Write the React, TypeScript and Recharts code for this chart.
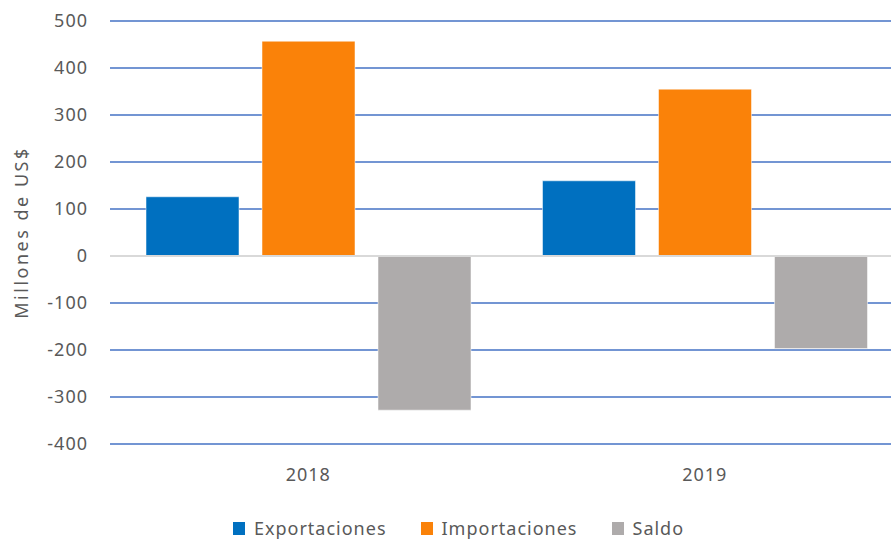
import { BarChart, Bar, XAxis, YAxis, CartesianGrid, ReferenceLine } from "recharts";

const years = ["2018", "2019"];
const exportaciones = [126, 160];
const importaciones = [457, 355];
const saldo = [-328, -197];
const yTicks = [-400, -300, -200, -100, 0, 100, 200, 300, 400, 500];

const series = [
  { key: "exportaciones", name: "Exportaciones", color: "#0070C0" },
  { key: "importaciones", name: "Importaciones", color: "#FA8209" },
  { key: "saldo", name: "Saldo", color: "#AEABAB" },
];

const data = years.map((year, i) => ({
  year,
  exportaciones: exportaciones[i],
  importaciones: importaciones[i],
  saldo: saldo[i],
}));

const font = "'Noto Sans', sans-serif";
const textColor = "#595959";
const tickStyle = { fontSize: 18, fill: textColor, fontFamily: font, letterSpacing: 1 };

export default function App() {
  return (
    <div style={{ position: "absolute", left: 0, top: 0, width: 891, height: 540, overflow: "hidden", background: "#fff", fontFamily: font }}>
      <BarChart
        width={903}
        height={540}
        data={data}
        margin={{ top: 21, right: 0, left: 0, bottom: 0 }}
        barCategoryGap={36}
        barGap={23}
      >
        <CartesianGrid horizontal vertical={false} stroke="#4472C4" strokeWidth={1.5} />
        <XAxis
          dataKey="year"
          axisLine={false}
          tickLine={false}
          height={96}
          tickMargin={18}
          tick={tickStyle}
        />
        <YAxis
          domain={[-400, 500]}
          ticks={yTicks}
          interval={0}
          width={110}
          axisLine={false}
          tickLine={false}
          tickMargin={16}
          tick={tickStyle}
          label={{
            value: "Millones de US$",
            angle: -90,
            position: "insideLeft",
            offset: 22,
            style: { fontSize: 18, fill: textColor, fontFamily: font, textAnchor: "middle", letterSpacing: 2.5 },
          }}
        />
        <ReferenceLine y={0} stroke="#D9D9D9" strokeWidth={2} />
        {series.map((s) => (
          <Bar
            key={s.key}
            dataKey={s.key}
            name={s.name}
            fill={s.color}
            stroke="#ffffff"
            strokeOpacity={0.5}
            strokeWidth={1}
            isAnimationActive={false}
          />
        ))}
      </BarChart>
      <div
        style={{
          position: "absolute",
          top: 518,
          left: 13,
          width: 891,
          display: "flex",
          justifyContent: "center",
          gap: 34,
          fontSize: 18,
          letterSpacing: 1,
          color: textColor,
          lineHeight: "20px",
        }}
      >
        {series.map((s) => (
          <div key={s.key} style={{ display: "flex", alignItems: "center", gap: 9 }}>
            <span style={{ display: "inline-block", width: 12, height: 13, background: s.color }} />
            <span>{s.name}</span>
          </div>
        ))}
      </div>
    </div>
  );
}
